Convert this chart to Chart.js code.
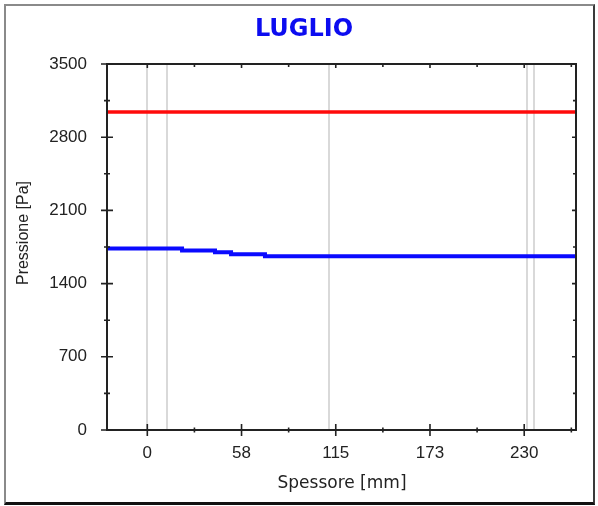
<!DOCTYPE html>
<html>
<head>
<meta charset="utf-8">
<script src="https://cdn.jsdelivr.net/npm/chart.js@4.4.1/dist/chart.umd.min.js"></script>
<style>
  html, body { margin: 0; padding: 0; background: #fff; }
  #wrap { position: relative; width: 598px; height: 506px; }
  canvas { display: block; }
  #frame {
    position: absolute; left: 4px; top: 4px; width: 587px; height: 496px;
    border-top: 2px solid #8a8a8a; border-left: 2px solid #8a8a8a;
    border-right: 2px solid #3a3a3a; border-bottom: 3px solid #111;
    pointer-events: none;
  }
</style>
</head>
<body>
<div id="wrap">
  <canvas id="c" width="598" height="506"></canvas>
  <div id="frame"></div>
</div>
<script>
// Thickness axis (mm)
const thicknessMin = -24.6;
const thicknessMax = 261.6;
const thicknessTicks = [0, 57.5, 115, 172.5, 230];
const thicknessLabels = ['0', '58', '115', '173', '230'];

// Pressure axis (Pa)
const pressureTicks = [0, 700, 1400, 2100, 2800, 3500];
const pressureLabels = ['0', '700', '1400', '2100', '2800', '3500'];

// Layer interfaces across the wall (mm)
const layerBounds = [0, 12, 111, 232, 236];

// Saturation pressure (red)
const saturationX = [thicknessMin, thicknessMax];
const saturationP = [3040, 3040];

// Vapour pressure (blue), stepped through the layers
const vapourX = [thicknessMin, 21.2, 41.3, 51.1, 71.8, 91.3, thicknessMax];
const vapourP = [1752, 1736, 1717, 1699, 1680, 1661, 1661];

const toPoints = (xs, ys) => xs.map((x, i) => ({ x, y: ys[i] }));

function minorsOf(majors, lo, hi) {
  const step = majors[1] - majors[0];
  const out = [];
  for (let v = majors[0] - step / 2; v >= lo; v -= step) out.push(v);
  for (let v = majors[0] + step / 2; v <= hi; v += step) out.push(v);
  return out;
}

const axesPlugin = {
  id: 'axesBox',
  beforeDatasetsDraw(chart) {
    const { ctx, chartArea: a, scales: { x } } = chart;
    ctx.save();
    ctx.strokeStyle = '#d9d9d9';
    ctx.lineWidth = 2;
    layerBounds.forEach(v => {
      const px = Math.round(x.getPixelForValue(v));
      ctx.beginPath();
      ctx.moveTo(px, a.top);
      ctx.lineTo(px, a.bottom);
      ctx.stroke();
    });
    ctx.restore();
  },
  afterDatasetsDraw(chart) {
    const { ctx, chartArea: a, scales: { x, y } } = chart;
    ctx.save();
    ctx.strokeStyle = '#222';
    ctx.lineWidth = 2;
    ctx.beginPath();
    ctx.rect(a.left, a.top, a.right - a.left, a.bottom - a.top);
    ctx.stroke();

    const xMin = minorsOf(thicknessTicks, thicknessMin, thicknessMax);
    const yMin = minorsOf(pressureTicks, 0, 3500).filter(v => v > 0 && v < 3500);
    ctx.lineWidth = 1.6;
    ctx.beginPath();
    // left axis: crossing ticks, right axis: inward ticks
    pressureTicks.forEach(v => {
      const py = y.getPixelForValue(v);
      ctx.moveTo(a.left - 6, py); ctx.lineTo(a.left + 6, py);
      ctx.moveTo(a.right - 4, py); ctx.lineTo(a.right, py);
    });
    yMin.forEach(v => {
      const py = y.getPixelForValue(v);
      ctx.moveTo(a.left - 3, py); ctx.lineTo(a.left + 3, py);
      ctx.moveTo(a.right - 3, py); ctx.lineTo(a.right, py);
    });
    // bottom axis: crossing ticks, top axis: inward ticks
    thicknessTicks.forEach(v => {
      const px = x.getPixelForValue(v);
      ctx.moveTo(px, a.bottom - 6); ctx.lineTo(px, a.bottom + 6);
      ctx.moveTo(px, a.top); ctx.lineTo(px, a.top + 4);
    });
    xMin.forEach(v => {
      const px = x.getPixelForValue(v);
      ctx.moveTo(px, a.bottom - 2.5); ctx.lineTo(px, a.bottom + 2.5);
      ctx.moveTo(px, a.top); ctx.lineTo(px, a.top + 3);
    });
    ctx.stroke();

    // axis titles
    ctx.fillStyle = '#222';
    ctx.textAlign = 'center';
    ctx.textBaseline = 'middle';
    ctx.font = '17px "DejaVu Sans"';
    ctx.fillText('Spessore [mm]', 342, 484);
    ctx.translate(24, 233);
    ctx.rotate(-Math.PI / 2);
    ctx.font = '16px "Liberation Sans"';
    ctx.fillText('Pressione [Pa]', 0, 0);
    ctx.restore();
  }
};

new Chart(document.getElementById('c'), {
  type: 'line',
  data: {
    datasets: [
      {
        data: toPoints(saturationX, saturationP),
        borderColor: '#ff0a0a',
        borderWidth: 3.5,
        pointRadius: 0
      },
      {
        data: toPoints(vapourX, vapourP),
        borderColor: '#0a0aff',
        borderWidth: 4,
        pointRadius: 0,
        stepped: 'after'
      }
    ]
  },
  options: {
    responsive: false,
    devicePixelRatio: 1,
    animation: false,
    events: [],
    layout: { padding: { left: 32, right: 22, top: 0, bottom: 0 } },
    plugins: {
      legend: { display: false },
      tooltip: { enabled: false },
      title: {
        display: true,
        text: 'LUGLIO',
        color: '#0c0cf0',
        font: { family: 'DejaVu Sans', size: 24, weight: 'bold', lineHeight: 1.2 },
        padding: { top: 15.6, bottom: 19.6 }
      }
    },
    scales: {
      x: {
        type: 'linear',
        min: thicknessMin,
        max: thicknessMax,
        grid: { display: false, drawTicks: false },
        border: { display: false },
        afterBuildTicks: s => { s.ticks = thicknessTicks.map(v => ({ value: v })); },
        afterFit: s => { s.height = 76; },
        ticks: {
          callback: (v, i) => thicknessLabels[i],
          autoSkip: false,
          maxRotation: 0,
          padding: 13,
          color: '#222',
          font: { family: 'Liberation Sans', size: 17 }
        }
      },
      y: {
        type: 'linear',
        min: 0,
        max: 3500,
        grid: { display: false, drawTicks: false },
        border: { display: false },
        afterBuildTicks: s => { s.ticks = pressureTicks.map(v => ({ value: v })); },
        afterFit: s => { s.width = 75; },
        ticks: {
          callback: (v, i) => pressureLabels[i],
          autoSkip: false,
          padding: 20,
          color: '#222',
          font: { family: 'Liberation Sans', size: 17 }
        }
      }
    }
  },
  plugins: [axesPlugin]
});
</script>
</body>
</html>
